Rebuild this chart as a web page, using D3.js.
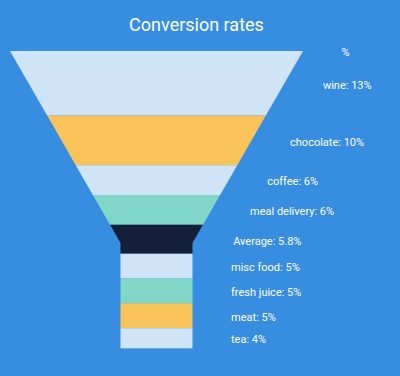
<!DOCTYPE html>
<html>
<head>
<meta charset="utf-8">
<script src="https://cdn.jsdelivr.net/npm/d3@7/dist/d3.min.js"></script>
<style>
  html, body { margin: 0; padding: 0; background: #378de0; }
  svg { display: block; font-family: Roboto, sans-serif; }
</style>
</head>
<body>
<svg id="funnel" width="400" height="376"></svg>
<script>
// funnel items, top to bottom (first one is the empty header slot)
var categories = ["", "wine", "chocolate", "coffee", "meal delivery", "Average", "misc food", "fresh juice", "meat", "tea"];
var values = [0, 13, 10, 6, 6, 5.8, 5, 5, 5, 4];
var colors = ["#cfe4f7", "#cfe4f7", "#f8c45a", "#cfe4f7", "#80d7c8", "#14203a", "#cfe4f7", "#80d7c8", "#f8c45a", "#cfe4f7"];

var svg = d3.select('#funnel');
var cx = 156.5, funnelTop = 51, funnelBottom = 348, neckY = 243;

var items = [];
var acc = 0;
categories.forEach(function(c, i) {
    items.push({ name: c, value: values[i], color: colors[i], start: acc, end: acc + values[i] });
    acc += values[i];
});

var y = d3.scaleLinear().domain([0, acc]).range([funnelTop, funnelBottom]);
var width = d3.scaleLinear().domain([funnelTop, neckY]).range([293, 72]).clamp(true);

svg.append('text')
    .attr('x', 196.5)
    .attr('y', 31)
    .attr('text-anchor', 'middle')
    .attr('fill', '#fff')
    .attr('font-size', 18)
    .text('Conversion rates');

function shape(d) {
    var y0 = y(d.start), y1 = y(d.end);
    var ys = [y0];
    if (y0 < neckY && y1 > neckY) ys.push(neckY);
    ys.push(y1);
    var left = ys.map(function(v) { return [cx - width(v) / 2, v]; });
    var right = ys.slice().reverse().map(function(v) { return [cx + width(v) / 2, v]; });
    return d3.line()(left.concat(right)) + 'Z';
}

svg.append('g').selectAll('path')
    .data(items.filter(function(d) { return d.value > 0; }))
    .join('path')
    .attr('d', shape)
    .attr('fill', function(d) { return d.color; });

// thin lighter edge under the last slice
svg.append('rect')
    .attr('x', cx - width(funnelBottom) / 2)
    .attr('y', y(acc))
    .attr('width', width(funnelBottom))
    .attr('height', 1)
    .attr('fill', '#6aa9ea');

svg.append('g').selectAll('text')
    .data(items)
    .join('text')
    .attr('x', function(d) {
        var m = y((d.start + d.end) / 2);
        return cx + width(m) / 2 + 38.5;
    })
    .attr('y', function(d) { return y((d.start + d.end) / 2) + 1.5; })
    .attr('dy', '0.35em')
    .attr('fill', '#fff')
    .attr('font-size', 11)
    .text(function(d) { return d.name ? d.name + ': ' + d.value + '%' : '%'; });
</script>
</body>
</html>
